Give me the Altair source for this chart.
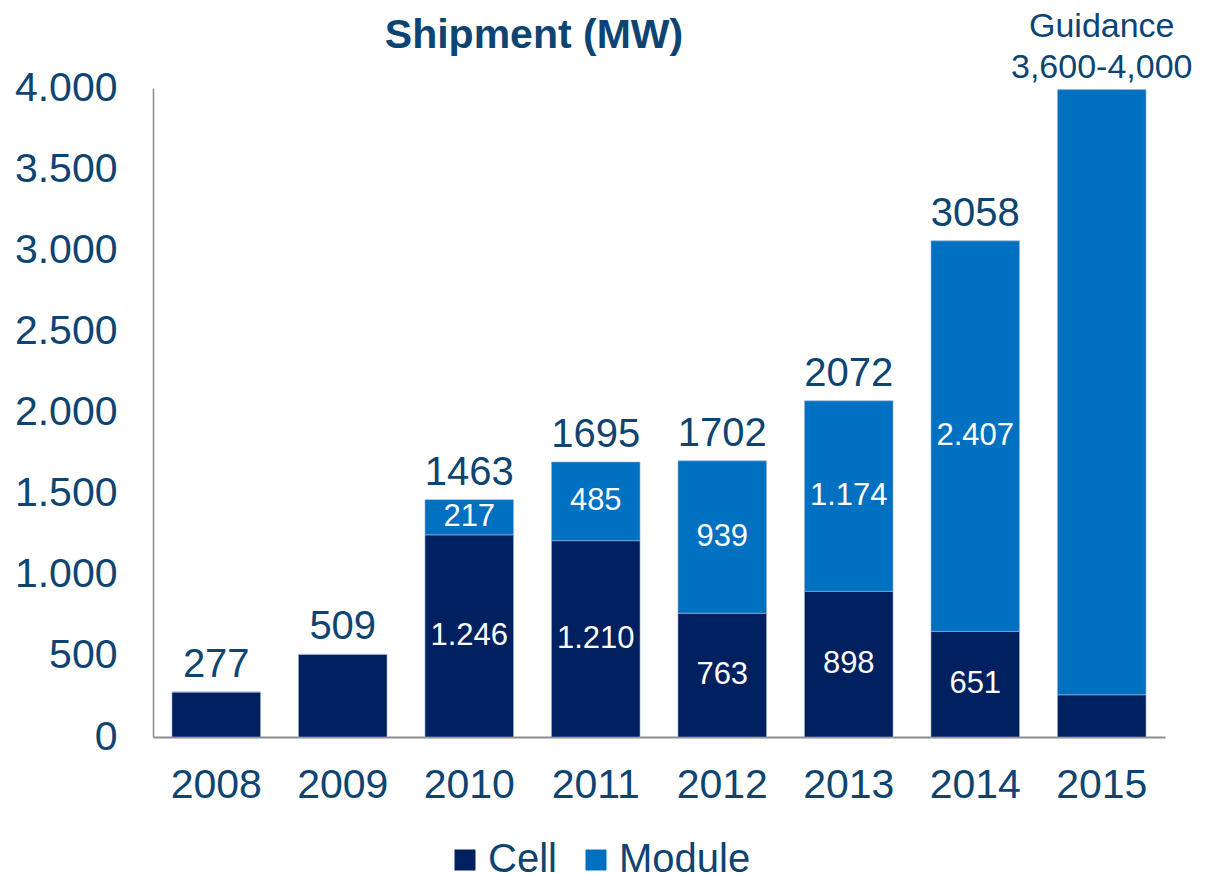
import altair as alt
import pandas as pd

years = ["2008", "2009", "2010", "2011", "2012", "2013", "2014", "2015"]
cell = [277, 509, 1246, 1210, 763, 898, 651, 260]
module = [0, 0, 217, 485, 939, 1174, 2407, 3730]
inner_label_years = ["2010", "2011", "2012", "2013", "2014"]
total_label_years = ["2008", "2009", "2010", "2011", "2012", "2013", "2014"]
guidance_year = "2015"
guidance_text = "Guidance\n3,600-4,000"
series = ["Cell", "Module"]
y_ticks = [0, 500, 1000, 1500, 2000, 2500, 3000, 3500, 4000]

TEXT = "#0d4472"
FONT = "Liberation Sans"

rows = []
for i, y in enumerate(years):
    rows.append({"year": y, "series": "Cell", "value": cell[i], "ord": 0})
    rows.append({"year": y, "series": "Module", "value": module[i], "ord": 1})
long = pd.DataFrame(rows)

tot = pd.DataFrame({"year": years, "total": [c + m for c, m in zip(cell, module)]})
tot_lab = tot[tot["year"].isin(total_label_years)].copy()
tot_lab["label"] = tot_lab["total"].astype(str)
guid = tot[tot["year"] == guidance_year].copy()
guid["label"] = guidance_text

x_enc = alt.X("year:N", sort=years,
              scale=alt.Scale(paddingInner=0.3, paddingOuter=0.15),
              axis=alt.Axis(title=None, labelAngle=0, labelFontSize=41, labelColor=TEXT,
                            labelFont=FONT, ticks=False, labelPadding=28,
                            domainColor="#8c8c8c", domainWidth=2))
y_scale = alt.Scale(domain=[0, 4000], nice=False)

bars = alt.Chart(long).mark_bar(stroke="#9fb3d4", strokeWidth=0.6).encode(
    x=x_enc,
    y=alt.Y("value:Q", scale=y_scale, stack="zero",
            axis=alt.Axis(title=None, values=y_ticks, grid=False, ticks=False,
                          labelFontSize=41, labelColor=TEXT, labelFont=FONT,
                          labelPadding=36,
                          labelExpr="replace(format(datum.value, ','), ',', '.')",
                          domainColor="#8c8c8c", domainWidth=1.5)),
    color=alt.Color("series:N", scale=alt.Scale(domain=series, range=["#002060", "#0070c0"]),
                    legend=alt.Legend(orient="none", legendX=292, legendY=752,
                                      direction="horizontal", title=None,
                                      symbolType="square", symbolSize=441,
                                      symbolStrokeWidth=0, labelFontSize=40,
                                      labelColor=TEXT, labelFont=FONT, labelOffset=3,
                                      columnPadding=19)),
    order=alt.Order("ord:Q", sort="ascending"),
)

inner = alt.Chart(long).transform_stack(
    stack="value", groupby=["year"], sort=[alt.SortField("ord", "ascending")], as_=["v0", "v1"]
).transform_calculate(
    mid="(datum.v0 + datum.v1) / 2",
    lab="replace(format(datum.value, ','), ',', '.')",
).transform_filter(
    alt.FieldOneOfPredicate(field="year", oneOf=inner_label_years)
).transform_filter("datum.value > 0").mark_text(
    color="white", fontSize=31, font=FONT, baseline="middle"
).encode(x=alt.X("year:N", sort=years), y=alt.Y("mid:Q", scale=y_scale), text="lab:N")

totals = alt.Chart(tot_lab).mark_text(
    color=TEXT, fontSize=40, font=FONT, baseline="alphabetic", dy=-15
).encode(x=alt.X("year:N", sort=years), y=alt.Y("total:Q", scale=y_scale), text="label:N")

guidance = alt.Chart(guid).mark_text(
    color=TEXT, fontSize=34, font=FONT, baseline="alphabetic", dy=-53,
    lineBreak="\n", lineHeight=41
).encode(x=alt.X("year:N", sort=years), y=alt.Y("total:Q", scale=y_scale), text="label:N")

chart = alt.layer(bars, inner, totals, guidance).properties(
    width=1012, height=649,
    title=alt.Title("Shipment (MW)", fontSize=41, fontWeight="bold", color=TEXT,
                    font=FONT, anchor="middle", dx=-125, dy=77, offset=30),
    autosize=alt.AutoSizeParams(type="none"),
    padding={"left": 145, "top": 80, "right": 32, "bottom": 140},
).configure_view(stroke=None)

chart.save("out.html", embed_options={"renderer": "svg", "actions": False})
